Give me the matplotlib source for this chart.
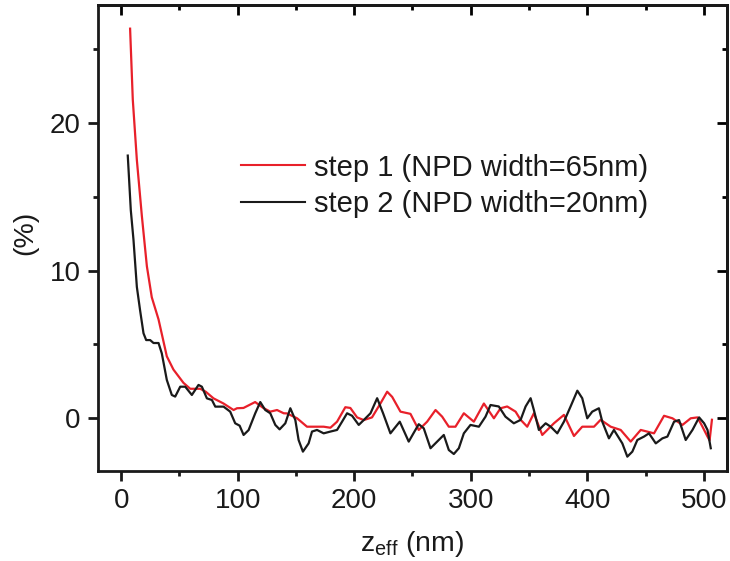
import matplotlib
matplotlib.use("Agg")
import matplotlib.pyplot as plt
from matplotlib.ticker import MultipleLocator

plt.rcParams['font.family'] = ['Liberation Sans', 'DejaVu Sans']
plt.rcParams['mathtext.fontset'] = 'custom'
plt.rcParams['mathtext.rm'] = 'Liberation Sans'
plt.rcParams['mathtext.default'] = 'regular'

# step 1 (NPD width = 65 nm)
z_step1 = [7.7, 10.0, 13.5, 17.8, 22.1, 26.3, 32.1, 39.2, 44.9, 53.5, 59.3, 67.9,
           72.6, 79.3, 87.9, 96.5, 99.4, 105.0, 115.0, 122.0, 128.0, 133.8, 139.5,
           142.3, 151.0, 159.5, 162.4, 173.8, 179.6, 185.3, 192.4, 196.7, 202.5,
           208.2, 215.3, 222.5, 228.3, 232.6, 239.7, 248.3, 255.4, 262.6, 269.8,
           275.5, 281.2, 286.9, 294.1, 302.7, 311.3, 319.9, 325.6, 331.3, 338.5,
           342.8, 348.5, 354.2, 361.4, 371.4, 380.0, 388.6, 395.7, 405.8, 411.5,
           420.1, 428.7, 437.3, 445.9, 457.3, 465.9, 473.1, 481.7, 488.8, 494.6,
           498.9, 503.2, 505.0, 507.0]
v_step1 = [26.4, 21.6, 17.5, 13.7, 10.3, 8.2, 6.7, 4.2, 3.3, 2.4, 2.0, 2.0,
           1.8, 1.35, 1.0, 0.56, 0.68, 0.7, 1.1, 0.7, 0.45, 0.56, 0.34,
           0.33, 0.0, -0.57, -0.57, -0.57, -0.64, -0.23, 0.75, 0.7, 0.06,
           -0.12, 0.06, 1.0, 1.8, 1.45, 0.45, 0.3, -0.79, -0.23, 0.56,
           0.11, -0.57, -0.57, 0.34, -0.23, 1.0, 0.0, 0.68, 0.8, 0.45,
           -0.1, -0.57, 0.34, -1.13, -0.34, 0.23, -1.2, -0.57, -0.57, -0.1,
           -0.57, -0.79, -1.58, -0.79, -1.02, 0.17, 0.0, -0.45, 0.0, 0.06,
           -0.57, -1.24, -1.5, -0.1]

# step 2 (NPD width = 20 nm)
z_step2 = [5.7, 8.3, 10.6, 13.5, 16.3, 19.2, 21.5, 24.9, 27.8, 32.1, 34.9, 39.2,
           43.5, 46.4, 50.7, 55.0, 60.7, 66.4, 69.3, 73.6, 77.9, 80.8, 87.9,
           93.6, 97.9, 101.7, 105.1, 109.4, 115.1, 119.4, 123.7, 128.0, 132.3,
           136.0, 140.9, 145.2, 149.5, 152.3, 156.0, 160.9, 163.8, 168.1, 173.8,
           179.6, 185.3, 189.6, 193.9, 198.2, 203.9, 208.2, 214.0, 219.7, 224.8,
           231.1, 239.1, 246.8, 251.0, 255.4, 259.7, 265.5, 271.2, 276.9, 281.2,
           285.5, 289.8, 294.1, 299.8, 307.0, 312.7, 317.0, 324.1, 329.8, 337.0,
           342.8, 347.1, 351.4, 354.2, 358.5, 364.3, 368.6, 374.3, 380.0, 385.7,
           391.5, 395.7, 400.0, 404.3, 410.0, 412.9, 418.6, 422.9, 430.1, 434.4,
           438.7, 443.0, 448.7, 453.0, 458.8, 464.5, 468.8, 474.5, 478.8, 484.5,
           490.3, 496.0, 500.3, 503.2, 506.0]
v_step2 = [17.8, 14.1, 12.1, 8.9, 7.3, 5.76, 5.3, 5.3, 5.1, 5.1, 4.4, 2.6,
           1.58, 1.47, 2.14, 2.14, 1.58, 2.26, 2.14, 1.35, 1.24, 0.79, 0.79,
           0.45, -0.34, -0.5, -1.13, -0.8, 0.34, 1.1, 0.56, 0.34, -0.45,
           -0.75, -0.34, 0.68, -0.12, -1.47, -2.26, -1.7, -0.9, -0.79, -1.02,
           -0.9, -0.79, -0.23, 0.34, 0.17, -0.45, -0.12, 0.34, 1.36, 0.34,
           -1.02, -0.23, -1.58, -1.0, -0.4, -0.68, -2.03, -1.58, -1.13, -2.15,
           -2.42, -2.03, -1.02, -0.45, -0.57, 0.11, 0.9, 0.8, 0.11, -0.34,
           -0.11, 0.8, 1.36, 0.56, -0.79, -0.34, -0.57, -1.02, -0.23, 0.8,
           1.87, 1.36, 0.0, 0.45, 0.68, -0.23, -1.36, -0.79, -1.7, -2.6,
           -2.26, -1.47, -1.24, -1.02, -1.7, -1.36, -1.24, -0.23, -0.12, -1.47,
           -0.79, 0.06, -0.34, -0.79, -2.03]

labels = ["step 1 (NPD width=65nm)", "step 2 (NPD width=20nm)"]
colors = ["#e8202a", "#1a1a1a"]

fig = plt.figure(figsize=(7.3, 5.61), dpi=100)
ax = fig.add_axes([0.134, 0.161, 0.862, 0.830])

ax.plot(z_step1, v_step1, color=colors[0], lw=1.6, label=labels[0])
ax.plot(z_step2, v_step2, color=colors[1], lw=1.6, label=labels[1])

ax.set_xlim(-20, 520)
ax.set_ylim(-3.55, 28.0)

ax.xaxis.set_major_locator(MultipleLocator(100))
ax.xaxis.set_minor_locator(MultipleLocator(50))
ax.yaxis.set_major_locator(MultipleLocator(10))
ax.yaxis.set_minor_locator(MultipleLocator(5))

for s in ax.spines.values():
    s.set_linewidth(2.0)
    s.set_color("#1a1a1a")

ax.tick_params(which='major', direction='out', length=7, width=2.0,
               labelsize=20, pad=5.5, top=False, right=False, color="#1a1a1a",
               labelcolor="#1a1a1a")
ax.tick_params(which='minor', direction='out', length=3.5, width=2.0,
               top=False, right=False, color="#1a1a1a")

# mirrored ticks on the top and right frame, pointing inward
top = ax.secondary_xaxis('top')
top.xaxis.set_major_locator(MultipleLocator(100))
top.xaxis.set_minor_locator(MultipleLocator(50))
top.tick_params(which='major', direction='in', length=7, width=2.0, labeltop=False)
top.tick_params(which='minor', direction='in', length=3.5, width=2.0)
top.spines['top'].set_linewidth(2.0)

right = ax.secondary_yaxis('right')
right.yaxis.set_major_locator(MultipleLocator(10))
right.yaxis.set_minor_locator(MultipleLocator(5))
right.tick_params(which='major', direction='in', length=7, width=2.0, labelright=False)
right.tick_params(which='minor', direction='in', length=3.5, width=2.0)
right.spines['right'].set_linewidth(2.0)

ax.set_xlabel(r"z$_{\mathregular{eff}}$ (nm)", fontsize=20.5, color="#1a1a1a", labelpad=11)
ax.set_ylabel("(%)", fontsize=20.5, color="#1a1a1a")
ax.yaxis.set_label_coords(-0.095, 0.51)

leg = ax.legend(loc='upper left', bbox_to_anchor=(0.209, 0.706), frameon=False,
                fontsize=21, handlelength=2.2, handletextpad=0.3,
                labelspacing=0.3, borderaxespad=0)
for ln in leg.get_lines():
    ln.set_linewidth(1.5)
for t in leg.get_texts():
    t.set_color("#1a1a1a")

fig.savefig("out.png", dpi=100)
